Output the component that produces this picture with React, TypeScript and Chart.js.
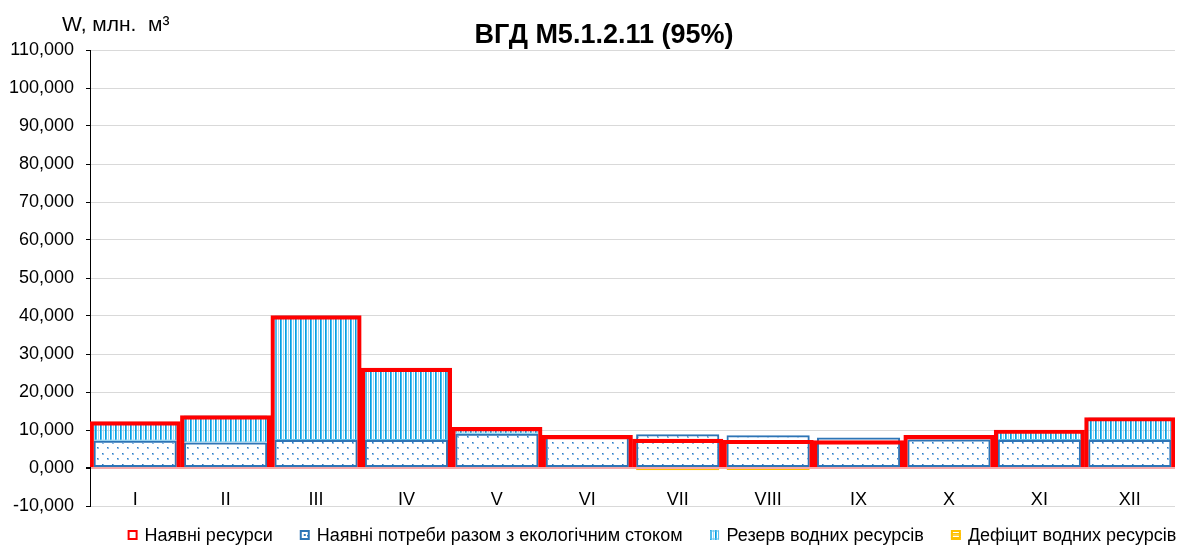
import React, { useEffect, useRef } from 'react';
import { Chart, registerables } from 'chart.js';

Chart.register(...registerables);

const months = ['I', 'II', 'III', 'IV', 'V', 'VI', 'VII', 'VIII', 'IX', 'X', 'XI', 'XII'];
const resources = [12.2, 13.8, 40.1, 26.3, 10.7, 8.6, 7.6, 7.3, 7.2, 8.6, 10.0, 13.3];
const needs = [7.2, 6.7, 7.4, 7.4, 9.0, 8.4, 8.9, 8.6, 8.0, 7.5, 7.4, 7.4];
const reserve = [5.0, 7.1, 32.7, 18.9, 1.7, 0.2, 0, 0, 0, 1.1, 2.6, 5.9];
const deficit = [0, 0, 0, 0, 0, 0, -0.6, -0.5, 0, 0, 0, 0];
const seriesNames = [
  'Наявні ресурси',
  'Наявні потреби разом з екологічним стоком',
  'Резерв водних ресурсів',
  'Дефіцит водних ресурсів',
];
const yTickValues = [-10, 0, 10, 20, 30, 40, 50, 60, 70, 80, 90, 100, 110];
const chartTitle = 'ВГД М5.1.2.11 (95%)';
const yAxisTitle = 'W, млн.  м³';

const FONT = '"Liberation Sans", Arial, sans-serif';

function tile(ctx: CanvasRenderingContext2D, w: number, h: number, draw: (g: CanvasRenderingContext2D) => void) {
  const c = document.createElement('canvas');
  c.width = w;
  c.height = h;
  const g = c.getContext('2d') as CanvasRenderingContext2D;
  draw(g);
  return ctx.createPattern(c, 'repeat') as CanvasPattern;
}

const nonZeroWidth = (w: number) => (c: any) => {
  const v = c.raw;
  return v === 0 || v === null || v === undefined ? 0 : w;
};

export default function App() {
  const ref = useRef<HTMLCanvasElement | null>(null);

  useEffect(() => {
    document.body.style.margin = '0';
    const canvas = ref.current as HTMLCanvasElement;
    const ctx0 = canvas.getContext('2d') as CanvasRenderingContext2D;

    const dots = tile(ctx0, 10, 11, (g) => {
      g.fillStyle = '#8cbbe6';
      g.fillRect(2, 2, 2, 2);
      g.fillRect(7, 7, 2, 2);
      g.fillStyle = '#2f7cc4';
      g.fillRect(2, 2, 1, 1);
      g.fillRect(7, 7, 1, 1);
    });
    const stripes = tile(ctx0, 5, 1, (g) => {
      g.fillStyle = '#009fe3';
      g.fillRect(0, 0, 1, 1);
      g.fillStyle = '#4dbdee';
      g.fillRect(1, 0, 1, 1);
      g.fillStyle = '#9fdaf5';
      g.fillRect(3, 0, 1, 1);
    });
    const hlines = tile(ctx0, 1, 4, (g) => {
      g.fillStyle = '#ffc000';
      g.fillRect(0, 1, 1, 1);
    });

    const fills = ['#ffffff', dots, stripes, hlines];
    const strokes = ['#ff0000', '#2e75b6', '#5bc0ec', '#ffc000'];

    const textPlugin = {
      id: 'textPlugin',
      afterDraw(chart: any) {
        const { ctx, scales } = chart;
        const x = scales.x;
        const y = scales.y;
        ctx.save();
        ctx.fillStyle = '#000';
        ctx.textBaseline = 'alphabetic';
        ctx.textAlign = 'center';
        ctx.font = `bold 27px ${FONT}`;
        ctx.fillText(chartTitle, 604, 43);

        ctx.textAlign = 'left';
        ctx.font = `21px ${FONT}`;
        ctx.fillText(yAxisTitle, 62, 31);

        ctx.textAlign = 'center';
        ctx.font = `18px ${FONT}`;
        const baseY = y.getPixelForValue(0) + 37;
        months.forEach((m, i) => {
          ctx.fillText(m, x.getPixelForValue(i), baseY);
        });

        // legend
        ctx.font = `18px ${FONT}`;
        ctx.textAlign = 'left';
        ctx.textBaseline = 'middle';
        const box = 10;
        const gapText = 7;
        const gapItem = 27;
        const widths = seriesNames.map((n) => box + gapText + ctx.measureText(n).width);
        const total = widths.reduce((a, b) => a + b, 0) + gapItem * (widths.length - 1);
        let lx = 652 - total / 2;
        const ly = 535;
        seriesNames.forEach((n, i) => {
          ctx.fillStyle = '#ffffff';
          ctx.fillRect(lx, ly - box / 2, box, box);
          ctx.fillStyle = fills[i] as any;
          ctx.fillRect(lx, ly - box / 2, box, box);
          if (i === 1) {
            ctx.fillStyle = '#2e75b6';
            ctx.fillRect(lx + 4, ly - 1, 2, 2);
          }
          if (i === 3) {
            ctx.strokeStyle = '#ffc000';
            ctx.lineWidth = 1.5;
            ctx.beginPath();
            ctx.moveTo(lx, ly);
            ctx.lineTo(lx + box, ly);
            ctx.stroke();
          }
          ctx.strokeStyle = strokes[i];
          ctx.lineWidth = i === 2 ? 1 : 2;
          ctx.strokeRect(lx + 1, ly - box / 2 + 1, box - 2, box - 2);
          ctx.fillStyle = '#000';
          ctx.fillText(n, lx + box + gapText, ly + 1);
          lx += widths[i] + gapItem;
        });
        ctx.restore();
      },
    };

    const common = { grouped: false, categoryPercentage: 1 };

    const chart = new Chart(canvas, {
      type: 'bar',
      data: {
        labels: months,
        datasets: [
          {
            label: seriesNames[0],
            data: resources,
            stack: 'res',
            order: 0,
            backgroundColor: 'rgba(0,0,0,0)',
            borderColor: '#ff0000',
            borderWidth: 3.5,
            borderSkipped: 'start',
            barPercentage: 1,
            ...common,
          },
          {
            label: seriesNames[1],
            data: needs,
            stack: 'bal',
            order: 1,
            backgroundColor: dots,
            borderColor: '#2e75b6',
            borderWidth: 2,
            borderSkipped: false,
            barPercentage: 0.92,
            ...common,
          },
          {
            label: seriesNames[2],
            data: reserve,
            stack: 'bal',
            order: 1,
            backgroundColor: stripes,
            borderColor: '#5bc0ec',
            borderWidth: nonZeroWidth(1),
            borderSkipped: false,
            barPercentage: 0.92,
            ...common,
          },
          {
            label: seriesNames[3],
            data: deficit,
            stack: 'bal',
            order: 1,
            backgroundColor: hlines,
            borderColor: '#ffc000',
            borderWidth: nonZeroWidth(1),
            borderSkipped: false,
            barPercentage: 0.92,
            ...common,
          },
        ] as any,
      },
      options: {
        animation: false,
        responsive: true,
        maintainAspectRatio: false,
        layout: { padding: { top: 50, right: 13, bottom: 39, left: 0 } },
        plugins: {
          legend: { display: false },
          title: { display: false },
          tooltip: { enabled: false },
        },
        scales: {
          x: {
            display: false,
            stacked: true,
            offset: true,
            grid: { display: false },
          },
          y: {
            stacked: true,
            min: -10,
            max: 110,
            afterBuildTicks: (s: any) => {
              s.ticks = yTickValues.map((v) => ({ value: v }));
            },
            afterFit: (s: any) => {
              s.width = 90;
            },
            ticks: {
              font: { family: FONT, size: 18 },
              color: '#000',
              padding: 12,
              callback: (v: any) => Number(v).toFixed(3).replace('.', ','),
            },
            grid: {
              color: (c: any) => (c.tick && c.tick.value === 0 ? '#f6a9a9' : '#d9d9d9'),
              lineWidth: (c: any) => (c.tick && c.tick.value === 0 ? 2 : 1),
              tickColor: '#000',
              tickLength: 4,
              drawTicks: true,
            },
            border: { display: true, color: '#000', width: 1 },
          },
        },
      },
      plugins: [textPlugin],
    });

    return () => chart.destroy();
  }, []);

  return (
    <div style={{ width: '1188px', height: '545px', position: 'relative', background: '#fff' }}>
      <canvas ref={ref} />
    </div>
  );
}
